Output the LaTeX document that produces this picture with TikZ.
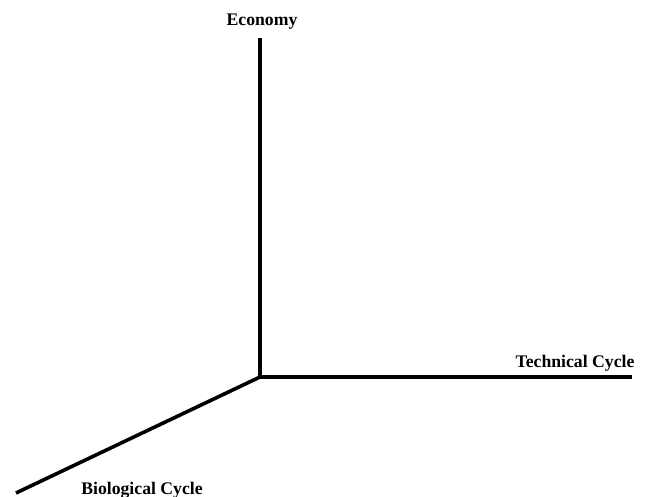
\documentclass[tikz,border=0pt]{standalone}
\usepackage{fontspec}
\setmainfont{Liberation Serif}
\begin{document}
\begin{tikzpicture}[x=1pt,y=-1pt,
  axis/.style={line width=3.6pt, line cap=butt},
  lbl/.style={font=\fontsize{17.7}{20}\selectfont\bfseries, inner sep=0pt}]
\useasboundingbox (0,0) rectangle (648,497);
\coordinate (o) at (260,377);
\coordinate (top) at (260,38);
\coordinate (right) at (632,377);
\coordinate (left) at (16,493);
\draw[axis] (top) -- (o) -- (right);
\draw[axis] (o) -- (left);
\node[lbl] (eco) at (262,22) {Economy};
\node[lbl] (tech) at (575,363) {Technical Cycle};
\node[lbl] (bio) at (142,490) {Biological Cycle};
\end{tikzpicture}
\end{document}
